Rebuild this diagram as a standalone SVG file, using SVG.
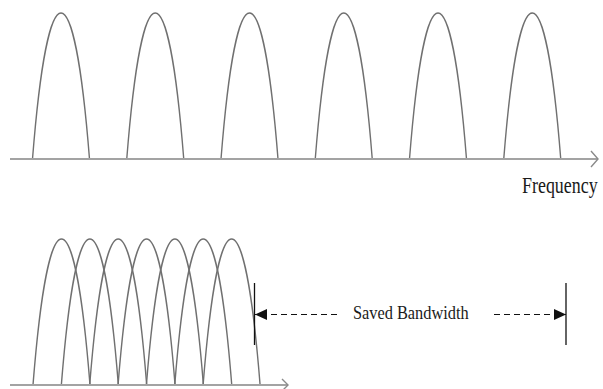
<svg xmlns="http://www.w3.org/2000/svg" width="603" height="389" viewBox="0 0 603 389">
  <style>
    .lobe { fill: none; stroke: #707070; stroke-width: 1.4; }
    .axis { fill: none; stroke: #a3a3a3; stroke-width: 2; }
    .head { fill: none; stroke: #8a8a8a; stroke-width: 1.4; }
    .dim { fill: none; stroke: #111; stroke-width: 1.3; }
    .dash { fill: none; stroke: #111; stroke-width: 1.2; stroke-dasharray: 6 4; }
    .lbl { font-family: "Liberation Serif", "Times New Roman", serif; fill: #1a1a1a; }
  </style>
  <defs>
    <!-- one spectral lobe, anchored at the centre of its base -->
    <path id="lobe" class="lobe" d="M-28.5,0 C-13,-194.7 13,-194.7 28.5,0"/>
    <marker id="tri-end" viewBox="0 0 12 12" refX="12" refY="6" markerWidth="12" markerHeight="12" markerUnits="userSpaceOnUse" orient="auto">
      <path d="M0,0.5 L12,6 L0,11.5 Z" fill="#111"/>
    </marker>
  </defs>

  <!-- separate carriers with guard bands -->
  <g id="fdm-spectrum">
    <use href="#lobe" x="61" y="159"/>
    <use href="#lobe" x="155.25" y="159"/>
    <use href="#lobe" x="249.5" y="159"/>
    <use href="#lobe" x="343.75" y="159"/>
    <use href="#lobe" x="438" y="159"/>
    <use href="#lobe" x="532.25" y="159"/>
  </g>

  <!-- overlapping orthogonal carriers -->
  <g id="ofdm-spectrum">
    <use href="#lobe" x="61.5" y="385"/>
    <use href="#lobe" x="89.85" y="385"/>
    <use href="#lobe" x="118.2" y="385"/>
    <use href="#lobe" x="146.55" y="385"/>
    <use href="#lobe" x="174.9" y="385"/>
    <use href="#lobe" x="203.25" y="385"/>
    <use href="#lobe" x="231.6" y="385"/>
  </g>

  <!-- axis caption, set in a horizontally condensed face -->
  <g id="label-frequency" transform="translate(522,193) scale(0.78,1)">
    <text class="lbl" x="0" y="0" font-size="23">Frequency</text>
  </g>

  <g id="label-saved-bandwidth" transform="translate(353,319) scale(0.86,1)">
    <text class="lbl" x="0" y="0" font-size="19">Saved Bandwidth</text>
  </g>

  <g id="connectors">
    <!-- frequency axes -->
    <line class="axis" x1="10" y1="159" x2="598" y2="159"/>
    <polyline class="head" points="591,151 598,159 591,167"/>
    <line class="axis" x1="10" y1="385" x2="288" y2="385"/>
    <polyline class="head" points="282,379 288,385 282,391"/>

    <!-- saved bandwidth dimension -->
    <line class="dim" x1="254.5" y1="283" x2="254.5" y2="345"/>
    <line class="dim" x1="566" y1="283" x2="566" y2="345"/>
    <line class="dash" x1="337" y1="314.5" x2="255" y2="314.5" marker-end="url(#tri-end)"/>
    <line class="dash" x1="494" y1="314.5" x2="566" y2="314.5" marker-end="url(#tri-end)"/>
  </g>
</svg>
